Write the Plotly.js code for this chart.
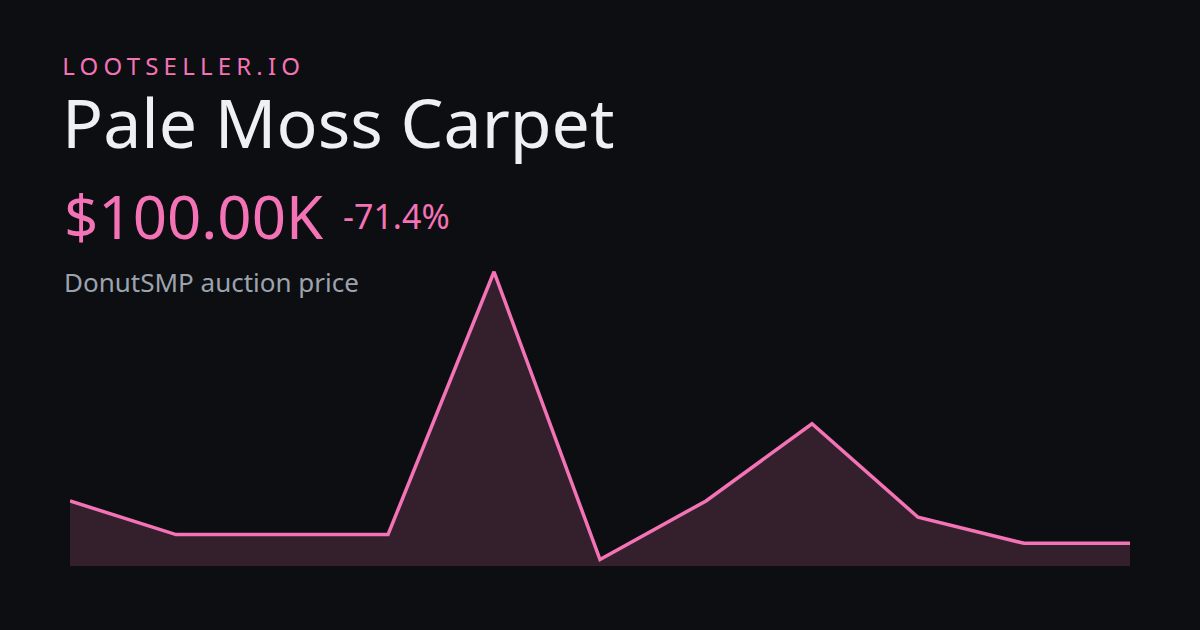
<!DOCTYPE html>
<html>
<head>
<meta charset="utf-8">
<script src="https://cdn.plot.ly/plotly-3.0.1.min.js"></script>
<style>
html,body{margin:0;padding:0;background:#0d0e11;}
#chart{width:1200px;height:630px;}
g.annotation[data-index="0"] text{letter-spacing:5.2px;}
</style>
</head>
<body>
<div id="chart"></div>
<script>
const points = [0,1,2,3,4,5,6,7,8,9,10];
const pricesK = [139, 108, 108, 108, 350, 85, 139, 210, 124, 100, 100];
const brand = "LOOTSELLER.IO";
const itemName = "Pale Moss Carpet";
const priceLabel = "$100.00K";
const changeLabel = "-71.4%";
const subtitle = "DonutSMP auction price";

const L = 70, R = 70, T = 250, B = 64, W = 1200, H = 630;
const pw = W - L - R, ph = H - T - B;
const px = x => (x - L) / pw;
const py = y => (H - B - y) / ph;

const trace = {
  x: points,
  y: pricesK,
  type: 'scatter',
  mode: 'lines',
  fill: 'tozeroy',
  fillcolor: '#33202c',
  line: {color: '#f472b6', width: 3.5, shape: 'linear'},
  hoverinfo: 'skip'
};

const layout = {
  width: W, height: H,
  paper_bgcolor: '#0d0e11',
  plot_bgcolor: '#0d0e11',
  margin: {l: L, r: R, t: T, b: B, pad: 0},
  showlegend: false,
  xaxis: {range: [0, 10], visible: false, fixedrange: true},
  yaxis: {range: [79.1, 370], visible: false, fixedrange: true},
  font: {family: '"Noto Sans", "Open Sans", sans-serif'},
  annotations: [
    {text: brand, xref: 'paper', yref: 'paper', x: px(94), y: py(65.5), xanchor: 'left', yanchor: 'middle', showarrow: false, font: {size: 24, color: '#f472b6'}},
    {text: itemName, xref: 'paper', yref: 'paper', x: px(60), y: py(121), xanchor: 'left', yanchor: 'middle', showarrow: false, font: {size: 68, color: '#eef0f3'}},
    {text: priceLabel, xref: 'paper', yref: 'paper', x: px(62), y: py(215.5), xanchor: 'left', yanchor: 'middle', showarrow: false, font: {size: 60, color: '#f472b6'}},
    {text: changeLabel, xref: 'paper', yref: 'paper', x: px(341), y: py(215.5), xanchor: 'left', yanchor: 'middle', showarrow: false, font: {size: 34, color: '#f472b6'}},
    {text: subtitle, xref: 'paper', yref: 'paper', x: px(62), y: py(281.5), xanchor: 'left', yanchor: 'middle', showarrow: false, font: {size: 26, color: '#9ca3af'}}
  ]
};

Plotly.newPlot('chart', [trace], layout, {staticPlot: true, displayModeBar: false});
</script>
</body>
</html>
